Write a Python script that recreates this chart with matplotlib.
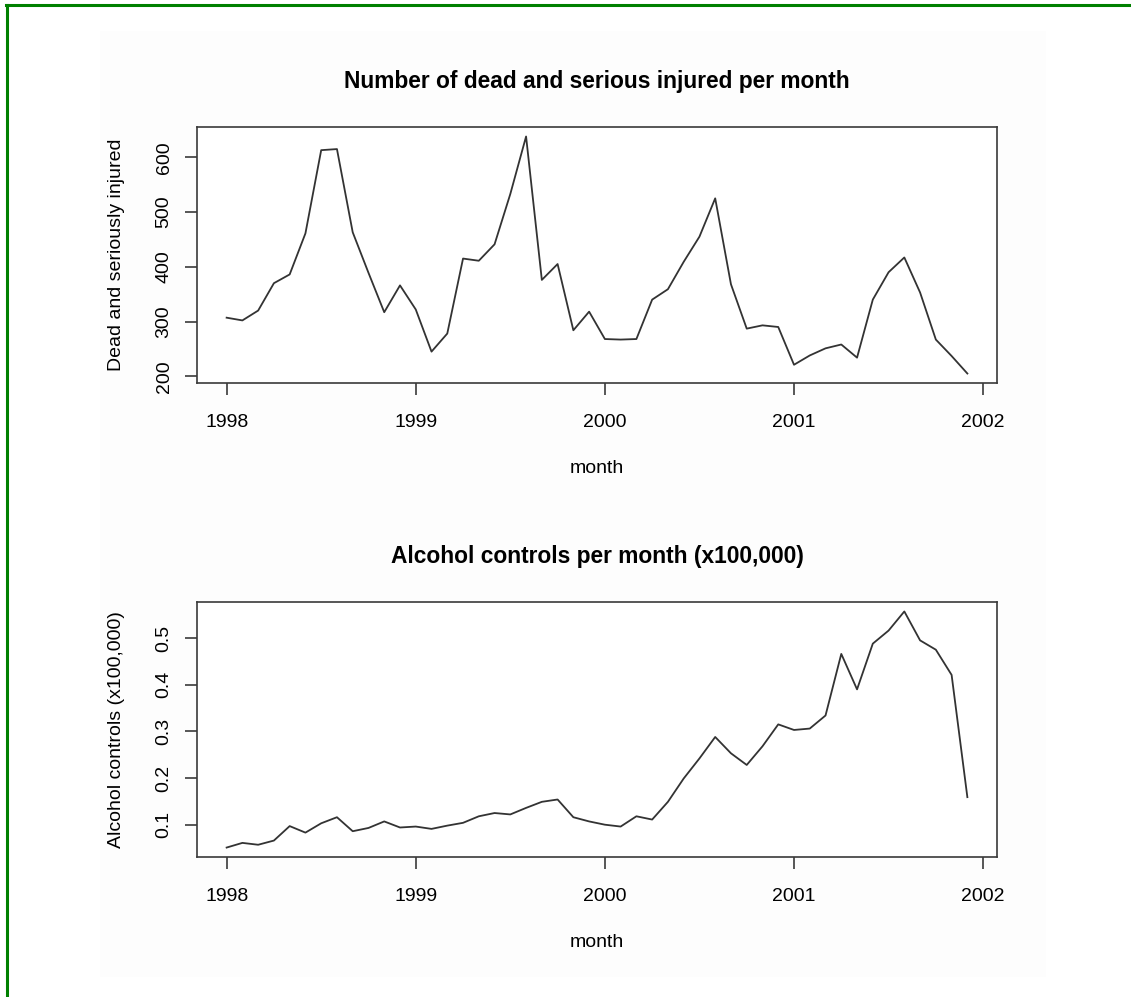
import matplotlib
matplotlib.use("Agg")
import matplotlib.pyplot as plt
import numpy as np
from matplotlib.patches import Rectangle
from matplotlib.lines import Line2D

# monthly series, Jan 1998 .. Dec 2001
START_YEAR = 1998
injured = [307, 302, 320, 370, 386, 461, 613, 615, 463, 389, 317, 366,
           322, 245, 278, 415, 411, 441, 533, 638, 376, 405, 284, 318,
           268, 267, 268, 340, 359, 409, 455, 525, 368, 287, 293, 290,
           221, 238, 251, 258, 234, 340, 390, 417, 353, 267, 237, 205]
alcohol = [0.051, 0.061, 0.057, 0.066, 0.097, 0.083, 0.103, 0.116, 0.086, 0.093, 0.107, 0.094,
           0.096, 0.091, 0.098, 0.104, 0.118, 0.125, 0.122, 0.136, 0.149, 0.154, 0.116, 0.107,
           0.100, 0.096, 0.118, 0.111, 0.149, 0.199, 0.242, 0.288, 0.253, 0.228, 0.268, 0.315,
           0.303, 0.306, 0.334, 0.466, 0.390, 0.488, 0.516, 0.557, 0.495, 0.475, 0.421, 0.159]
year_ticks = [1998, 1999, 2000, 2001, 2002]
inj_ticks = [200, 300, 400, 500, 600]
alc_ticks = [0.1, 0.2, 0.3, 0.4, 0.5]

W, H = 1131, 997
plt.rcParams["font.family"] = ["Liberation Sans", "DejaVu Sans"]
INK = "#3a3a3a"


def _r_range(vals):
    lo, hi = min(vals), max(vals)
    pad = 0.04 * (hi - lo)
    return lo - pad, hi + pad


def _panel(fig, rect, t, y, title, ylabel, yticks, yfmt):
    ax = fig.add_axes(rect)
    ax.set_facecolor("white")
    ax.plot(t, y, color="#333333", lw=1.3)
    ax.set_xlim(*_r_range(t))
    ax.set_ylim(*_r_range(y))
    ax.set_xticks(year_ticks)
    ax.set_xticklabels([str(v) for v in year_ticks])
    ax.set_yticks(yticks)
    ax.set_yticklabels([yfmt(v) for v in yticks])
    for s in ax.spines.values():
        s.set_color(INK)
        s.set_linewidth(1.2)
    ax.tick_params(axis="both", direction="out", length=8.5, width=1.2,
                   color=INK, labelsize=14, labelcolor="black")
    ax.tick_params(axis="x", pad=13.5)
    ax.tick_params(axis="y", pad=9, labelrotation=90)
    for lab in ax.get_yticklabels():
        lab.set_va("center")
    ax.set_title(title, fontsize=16.4, fontweight="bold", pad=28)
    ax.set_xlabel("month", fontsize=14, labelpad=21)
    ax.set_ylabel(ylabel, fontsize=14, labelpad=22)
    return ax


fig = plt.figure(figsize=(W / 100, H / 100), dpi=100)
fig.patch.set_facecolor("white")

# faint inner plot region and the green frame (top + left only)
fig.add_artist(Rectangle((100 / W, 1 - 977 / H), 946 / W, 946 / H,
                         transform=fig.transFigure, facecolor="#fdfdfd",
                         edgecolor="none", zorder=-5))
fig.add_artist(Line2D([6 / W, 1], [1 - 5.5 / H, 1 - 5.5 / H],
                      transform=fig.transFigure, color="#008000", lw=2.2))
fig.add_artist(Line2D([6.5 / W, 6.5 / W], [0, 1 - 5.5 / H],
                      transform=fig.transFigure, color="#008000", lw=2.2))

t = START_YEAR + np.arange(len(injured)) / 12.0

left, width = 197 / W, 800 / W
_panel(fig, [left, 1 - 383 / H, width, 256 / H], t, injured,
       "Number of dead and serious injured per month",
       "Dead and seriously injured", inj_ticks, lambda v: f"{v:d}")
_panel(fig, [left, 1 - 857 / H, width, 255 / H], t, alcohol,
       "Alcohol controls per month (x100,000)",
       "Alcohol controls (x100,000)", alc_ticks, lambda v: f"{v:.1f}")

fig.savefig("out.png", dpi=100)
